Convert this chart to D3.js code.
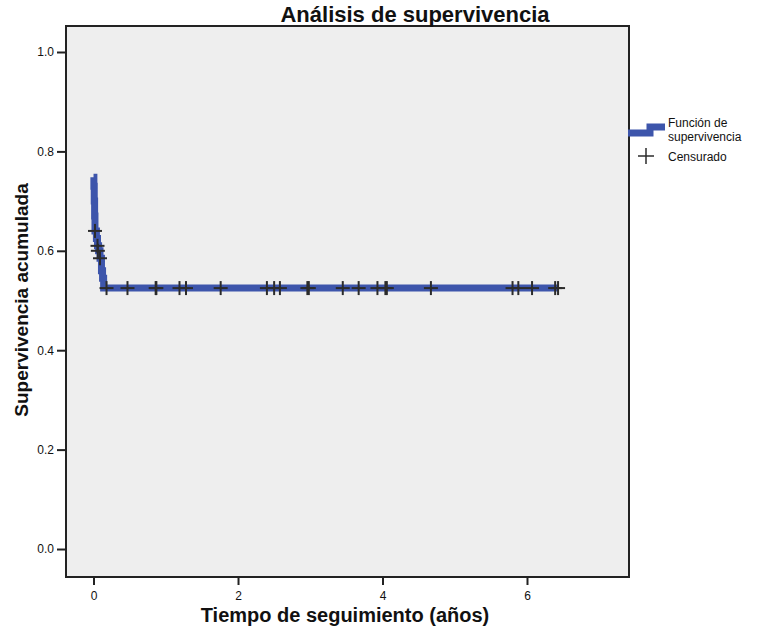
<!DOCTYPE html>
<html><head><meta charset="utf-8">
<script src="https://cdn.jsdelivr.net/npm/d3@7"></script>
<style>
body{margin:0;background:#fff;}
svg{display:block;font-family:"Liberation Sans",Arial,sans-serif;}
</style></head>
<body>
<svg id="chart" width="760" height="637"></svg>
<script>
// Kaplan-Meier step curve (time in years, cumulative survival)
const kmTime = [0, 0.005, 0.01, 0.015, 0.02, 0.04, 0.055, 0.07, 0.09, 0.11, 0.125, 0.14, 6.43];
const kmSurv = [0.748, 0.73, 0.70, 0.67, 0.64, 0.625, 0.61, 0.60, 0.585, 0.56, 0.545, 0.525, 0.525];
// Censored observations
const censorTime = [0.02, 0.055, 0.06, 0.09, 0.18, 0.47, 0.86, 0.87, 1.19, 1.28, 1.76, 2.40, 2.50, 2.58, 2.96, 2.98, 3.45, 3.67, 3.93, 4.04, 4.06, 4.67, 5.80, 5.88, 6.07, 6.39, 6.43];
const censorSurv = [0.64, 0.61, 0.60, 0.585, 0.525, 0.525, 0.525, 0.525, 0.525, 0.525, 0.525, 0.525, 0.525, 0.525, 0.525, 0.525, 0.525, 0.525, 0.525, 0.525, 0.525, 0.525, 0.525, 0.525, 0.525, 0.525, 0.525];
const xTicks = [0, 2, 4, 6];
const yTicks = [0, 0.2, 0.4, 0.6, 0.8, 1.0];
const title = "Análisis de supervivencia";
const xLabel = "Tiempo de seguimiento (años)";
const yLabel = "Supervivencia acumulada";
const legendLabels = [["Función de", "supervivencia"], ["Censurado"]];

const svg = d3.select("#chart");
const L = 66, R = 629, T = 26, B = 577;
const x = d3.scaleLinear().domain([-0.381, 7.412]).range([L, R]);
const y = d3.scaleLinear().domain([-0.0563, 1.0523]).range([B, T]);
const blue = "#3d55ab", dark = "#2b2b2b";

svg.append("rect").attr("x", L).attr("y", T).attr("width", R - L).attr("height", B - T)
  .attr("fill", "#eeeeee").attr("stroke", "#222").attr("stroke-width", 2);

// axes
const xa = svg.append("g").attr("transform", `translate(0,${B})`)
  .call(d3.axisBottom(x).tickValues(xTicks).tickSize(8).tickPadding(6).tickFormat(d3.format("d")));
const ya = svg.append("g").attr("transform", `translate(${L},0)`)
  .call(d3.axisLeft(y).tickValues(yTicks).tickSize(9).tickPadding(3).tickFormat(d3.format(".1f")));
[xa, ya].forEach(g => {
  g.select(".domain").remove();
  g.selectAll(".tick line").attr("stroke", "#222").attr("stroke-width", 2);
  g.selectAll(".tick text").attr("fill", "#111").style("font-size", "12px").style("font-family", "Liberation Sans, Arial, sans-serif");
});

// survival line
const pts = kmTime.map((t, i) => [t, kmSurv[i]]);
const line = d3.line().x(d => x(d[0])).y(d => y(d[1])).curve(d3.curveStepAfter);
svg.append("path").attr("d", line(pts)).attr("fill", "none")
  .attr("stroke", blue).attr("stroke-width", 7).attr("stroke-linejoin", "miter");

// censor marks
const cs = censorTime.map((t, i) => [t, censorSurv[i]]);
const cg = svg.append("g").attr("stroke", dark).attr("stroke-width", 2);
cs.forEach(d => {
  const cx = x(d[0]), cy = y(d[1]);
  cg.append("line").attr("x1", cx - 7).attr("x2", cx + 7).attr("y1", cy).attr("y2", cy);
  cg.append("line").attr("x1", cx).attr("x2", cx).attr("y1", cy - 7).attr("y2", cy + 7);
});

// title & labels
svg.append("text").attr("x", 415).attr("y", 22).attr("text-anchor", "middle")
  .style("font-size", "22px").style("font-weight", "bold").attr("fill", "#111").text(title);
svg.append("text").attr("x", 345).attr("y", 622).attr("text-anchor", "middle")
  .style("font-size", "20px").style("font-weight", "bold").attr("fill", "#111").text(xLabel);
svg.append("text").attr("transform", "translate(28,300) rotate(-90)").attr("text-anchor", "middle")
  .style("font-size", "19px").style("font-weight", "bold").attr("fill", "#111").text(yLabel);

// legend
const lg = svg.append("g");
lg.append("path").attr("d", "M628,133 H650 V127 H665").attr("fill", "none")
  .attr("stroke", blue).attr("stroke-width", 7).attr("stroke-linejoin", "miter");
lg.append("text").attr("x", 668).attr("y", 127).style("font-size", "12px").attr("fill", "#111")
  .selectAll("tspan").data(legendLabels[0]).join("tspan")
  .attr("x", 668).attr("dy", (d, i) => i ? 14 : 0).text(d => d);
const px = 646, py = 156;
lg.append("line").attr("x1", px - 8).attr("x2", px + 8).attr("y1", py).attr("y2", py).attr("stroke", dark).attr("stroke-width", 1.5);
lg.append("line").attr("x1", px).attr("x2", px).attr("y1", py - 8).attr("y2", py + 8).attr("stroke", dark).attr("stroke-width", 1.5);
lg.append("text").attr("x", 668).attr("y", 161).style("font-size", "12px").attr("fill", "#111").text(legendLabels[1][0]);
</script>
</body></html>
